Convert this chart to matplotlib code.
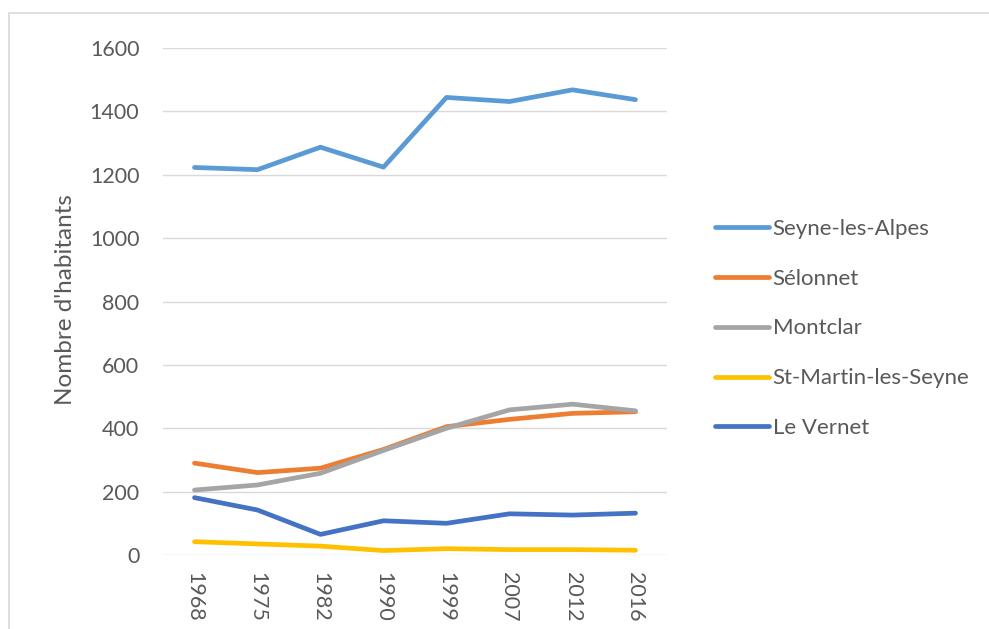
import matplotlib
matplotlib.use("Agg")
import matplotlib.pyplot as plt
from matplotlib.patches import Rectangle

years = ["1968", "1975", "1982", "1990", "1999", "2007", "2012", "2016"]
seyne = [1223, 1216, 1287, 1224, 1444, 1431, 1468, 1437]
selonnet = [290, 260, 274, 333, 405, 428, 447, 452]
montclar = [205, 221, 258, 330, 400, 458, 476, 455]
st_martin = [42, 35, 28, 14, 20, 17, 17, 15]
le_vernet = [181, 142, 65, 108, 100, 130, 126, 132]

series_names = ["Seyne-les-Alpes", "Sélonnet", "Montclar", "St-Martin-les-Seyne", "Le Vernet"]
colors = ["#5B9BD5", "#ED7D31", "#A5A5A5", "#FFC000", "#4472C4"]
yticks = [0, 200, 400, 600, 800, 1000, 1200, 1400, 1600]

plt.rcParams['font.family'] = ['Lato', 'DejaVu Sans']
text_color = "#595959"

fig = plt.figure(figsize=(9.89, 6.29), dpi=100)
W, H = 989, 629
ax = fig.add_axes([163 / W, 1 - 555 / H, (667 - 163) / W, (555 - 48) / H])

x = list(range(len(years)))
for name, vals, c in zip(series_names, [seyne, selonnet, montclar, st_martin, le_vernet], colors):
    ax.plot(x, vals, color=c, lw=3.4, label=name, solid_capstyle='round', solid_joinstyle='round', zorder=3)

ax.set_xlim(-0.5, len(years) - 0.5)
ax.set_ylim(0, 1600)
ax.set_yticks(yticks)
ax.set_yticklabels([str(v) for v in yticks])
ax.set_xticks(x)
ax.set_xticklabels(years, rotation=-90)
ax.grid(axis='y', color='#D9D9D9', lw=1.0, zorder=1)
ax.set_axisbelow(True)
for s in ax.spines.values():
    s.set_visible(False)
ax.tick_params(axis='y', length=0, pad=17, labelsize=15.5, labelcolor=text_color)
ax.tick_params(axis='x', length=0, pad=12, labelsize=15.5, labelcolor=text_color)
ax.set_ylabel("Nombre d'habitants", fontsize=17.5, color=text_color)
ax.yaxis.set_label_coords((65 - 163) / (667 - 163), (555 - 300) / (555 - 48))
ax.yaxis.label.set_va('center')

leg = fig.legend(loc='center left', bbox_to_anchor=(715 / W, 1 - 328.5 / H), frameon=False,
                 fontsize=16, handlelength=2.45, handletextpad=0.15, labelspacing=1.34,
                 borderpad=0, borderaxespad=0)
for t in leg.get_texts():
    t.set_color(text_color)
for l in leg.get_lines():
    l.set_linewidth(3.4)

fig.patches.append(Rectangle((9 / W, -0.1), 1.2, 1 - 13 / H + 0.1, transform=fig.transFigure,
                             fill=False, edgecolor='#D9D9D9', lw=1.2))

fig.savefig("out.png", dpi=100)
